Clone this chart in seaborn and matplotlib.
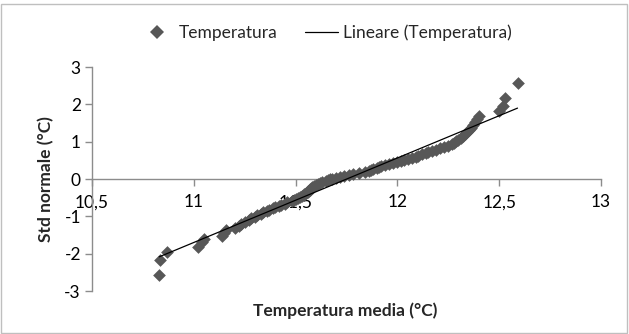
import numpy as np
import pandas as pd
import matplotlib
matplotlib.use("Agg")
import matplotlib.pyplot as plt
import seaborn as sns
from matplotlib.lines import Line2D
from matplotlib.patches import Rectangle

# Mean temperatures (°C), sorted, and their standard-normal scores
temperatura = [
    10.83, 10.835, 10.87, 11.02, 11.04, 11.05, 11.14, 11.15, 11.16, 11.20,
    11.22, 11.23, 11.25, 11.27, 11.28, 11.30, 11.31, 11.33, 11.34, 11.36,
    11.37, 11.39, 11.40, 11.42, 11.43, 11.45, 11.46, 11.48, 11.49, 11.50,
    11.51, 11.52, 11.53, 11.54, 11.54, 11.55, 11.56, 11.56, 11.57, 11.57,
    11.58, 11.58, 11.59, 11.60, 11.61, 11.62, 11.63, 11.65, 11.66, 11.67,
    11.68, 11.70, 11.72, 11.74, 11.76, 11.78, 11.81, 11.84, 11.86, 11.87,
    11.88, 11.90, 11.91, 11.92, 11.94, 11.96, 11.98, 12.00, 12.02, 12.03,
    12.05, 12.07, 12.09, 12.10, 12.12, 12.14, 12.15, 12.17, 12.19, 12.21,
    12.23, 12.25, 12.27, 12.28, 12.29, 12.30, 12.31, 12.32, 12.33, 12.34,
    12.35, 12.36, 12.37, 12.38, 12.39, 12.40, 12.50, 12.52, 12.53, 12.59,
]
std_normale = [
    -2.576, -2.170, -1.960, -1.812, -1.695, -1.598, -1.514, -1.440, -1.372, -1.311,
    -1.254, -1.200, -1.150, -1.103, -1.058, -1.015, -0.974, -0.935, -0.896, -0.860,
    -0.824, -0.789, -0.755, -0.722, -0.690, -0.659, -0.628, -0.598, -0.568, -0.539,
    -0.510, -0.482, -0.454, -0.426, -0.399, -0.372, -0.345, -0.319, -0.292, -0.266,
    -0.240, -0.215, -0.189, -0.164, -0.138, -0.113, -0.088, -0.063, -0.038, -0.013,
    0.013, 0.038, 0.063, 0.088, 0.113, 0.138, 0.164, 0.189, 0.215, 0.240,
    0.266, 0.292, 0.319, 0.345, 0.372, 0.399, 0.426, 0.454, 0.482, 0.510,
    0.539, 0.568, 0.598, 0.628, 0.659, 0.690, 0.722, 0.755, 0.789, 0.824,
    0.860, 0.896, 0.935, 0.974, 1.015, 1.058, 1.103, 1.150, 1.200, 1.254,
    1.311, 1.372, 1.440, 1.514, 1.598, 1.695, 1.812, 1.960, 2.170, 2.576,
]
x_ticks = [10.5, 11, 11.5, 12, 12.5, 13]
x_tick_labels = ["10,5", "11", "11,5", "12", "12,5", "13"]
y_ticks = [-3, -2, -1, 0, 1, 2, 3]
y_tick_labels = ["-3", "-2", "-1", "0", "1", "2", "3"]

df = pd.DataFrame({"Temperatura": temperatura, "Std": std_normale})

# Least-squares trend line over the data range
slope, intercept = np.polyfit(df["Temperatura"], df["Std"], 1)
trend = pd.DataFrame({"x": [df["Temperatura"].min(), df["Temperatura"].max()]})
trend["y"] = slope * trend["x"] + intercept

sns.set_theme(style="white")
plt.rcParams["font.family"] = ["Lato", "DejaVu Sans"]

fig = plt.figure(figsize=(6.29, 3.34), dpi=100)
ax = fig.add_axes([92 / 629, 1 - 291 / 334, (601 - 92) / 629, (291 - 67) / 334])

point_color = "#575757"
axis_color = "#8c8c8c"

sns.scatterplot(data=df, x="Temperatura", y="Std", ax=ax, marker="D",
                s=42, color=point_color, edgecolor=point_color, linewidth=0,
                legend=False, zorder=3)
sns.lineplot(data=trend, x="x", y="y", ax=ax, color="black", linewidth=0.9,
             legend=False, zorder=4)

ax.set_xlim(10.5, 13)
ax.set_ylim(-3, 3)
ax.set_xticks(x_ticks)
ax.set_xticklabels(x_tick_labels)
ax.set_yticks(y_ticks)
ax.set_yticklabels(y_tick_labels)

for side in ("top", "right"):
    ax.spines[side].set_visible(False)
ax.spines["bottom"].set_position(("data", 0))
for side in ("left", "bottom"):
    ax.spines[side].set_color(axis_color)
    ax.spines[side].set_linewidth(1.0)

ax.tick_params(axis="both", which="major", length=5, width=1.0,
               color=axis_color, labelsize=12.5, labelcolor="black",
               direction="out", pad=3, bottom=True, left=True)
ax.tick_params(axis="x", pad=6)
ax.grid(False)

ax.set_xlabel("")
ax.set_ylabel("")
fig.text(345 / 629, 1 - 311 / 334, "Temperatura media (°C)", ha="center",
         va="center", fontsize=12.5, fontweight="bold")
fig.text(46 / 629, 1 - 179 / 334, "Std normale (°C)", ha="center",
         va="center", rotation=90, fontsize=12.5, fontweight="bold")

handles = [
    Line2D([], [], linestyle="none", marker="D", markersize=7,
           color=point_color, markeredgewidth=0, label="Temperatura"),
    Line2D([], [], color="black", linewidth=0.9, label="Lineare (Temperatura)"),
]
fig.legend(handles=handles, loc="center", bbox_to_anchor=(326 / 629, 1 - 33 / 334),
           ncol=2, frameon=False, fontsize=12.5, handlelength=1.9,
           handletextpad=0.3, columnspacing=1.6)

# Chart-area border
fig.patches.append(Rectangle((1 / 629, 1 / 334), 626 / 629, 1 - 5 / 334,
                             transform=fig.transFigure, fill=False,
                             edgecolor="#bfbfbf", linewidth=1.0))

fig.savefig("out.png", dpi=100)
